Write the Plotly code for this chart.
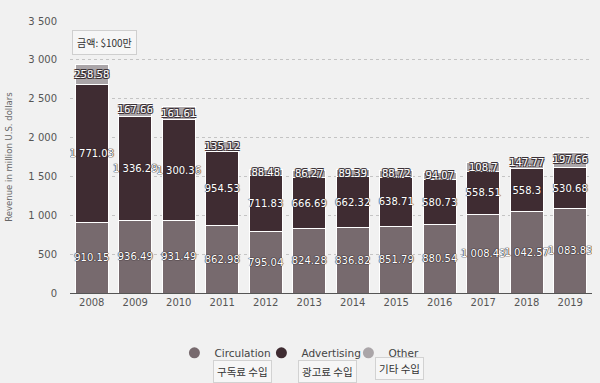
import plotly.graph_objects as go

years = ["2008", "2009", "2010", "2011", "2012", "2013", "2014", "2015", "2016", "2017", "2018", "2019"]
circulation = [910.15, 936.49, 931.49, 862.98, 795.04, 824.28, 836.82, 851.79, 880.54, 1008.43, 1042.57, 1083.83]
advertising = [1771.03, 1336.29, 1300.36, 954.53, 711.83, 666.69, 662.32, 638.71, 580.73, 558.51, 558.3, 530.68]
other = [258.58, 167.66, 161.61, 135.12, 88.48, 86.27, 89.39, 88.72, 94.07, 108.7, 147.77, 197.66]

series_names = ["Circulation", "Advertising", "Other"]
series_colors = ["#776a6e", "#3f2c32", "#aaa5a8"]
korean_labels = ["구독료 수입", "광고료 수입", "기타 수입"]

font_main = "DejaVu Sans"
outline_strong = "-1px -1px 0 #3a3035, 1px -1px 0 #3a3035, -1px 1px 0 #3a3035, 1px 1px 0 #3a3035"
outline_soft = "0 0 1px #2e2428, 0 0 1px #2e2428, 0 0 1px #2e2428"

fig = go.Figure()
for name, vals, col in zip(series_names, [circulation, advertising, other], series_colors):
    sh = outline_strong if name == "Other" else outline_soft
    fig.add_trace(go.Bar(
        x=years, y=vals, name=name, showlegend=False,
        marker=dict(color=col, line=dict(color="white", width=1)),
        texttemplate="%{y:,}", textposition="inside", insidetextanchor="middle",
        constraintext="none", textangle=0,
        textfont=dict(family=font_main, size=10, color="white", shadow=sh),
    ))
# legend entries with round markers
for name, col in zip(series_names, series_colors):
    fig.add_trace(go.Scatter(x=[None], y=[None], mode="markers", name=name,
                             marker=dict(symbol="circle", size=11, color=col)))

fig.update_layout(
    barmode="stack",
    bargap=0.24,
    separators=". ",
    width=600, height=383,
    margin=dict(l=70, r=8, t=21, b=90),
    paper_bgcolor="#f1f1f1",
    plot_bgcolor="#f1f1f1",
    font=dict(family=font_main, size=10, color="#555"),
    showlegend=True,
    legend=dict(orientation="h", x=0.45, xanchor="center", y=-0.22, yanchor="middle",
                font=dict(size=10.5, color="#444"), bgcolor="rgba(0,0,0,0)",
                itemwidth=30, entrywidth=42, entrywidthmode="pixels", traceorder="normal"),
    yaxis=dict(range=[0, 3500], dtick=500, tickformat=",", showgrid=True,
               gridcolor="#c4c4c4", griddash="dot", gridwidth=1, zeroline=False,
               ticks="", ticklabelstandoff=12,
               title=dict(text="Revenue in million U.S. dollars", font=dict(size=8.5, color="#666"), standoff=14)),
    xaxis=dict(showline=True, linecolor="#555", linewidth=1, ticks="", showgrid=False,
               tickfont=dict(size=10, color="#555")),
)

fig.add_annotation(text="금액: $100만", xref="paper", yref="paper", x=0.004, y=0.92,
                   xanchor="left", yanchor="middle", showarrow=False,
                   font=dict(family="Noto Sans CJK KR", size=10, color="#333"),
                   bordercolor="#cfcfcf", borderwidth=1, borderpad=4, bgcolor="#f6f6f6")

kx = [0.33, 0.494, 0.632]
ky = [-0.29, -0.29, -0.276]
for t, x, y in zip(korean_labels, kx, ky):
    fig.add_annotation(text=t, xref="paper", yref="paper", x=x, y=y,
                       xanchor="center", yanchor="middle", showarrow=False,
                       font=dict(family="Noto Sans CJK KR", size=10.5, color="#333"),
                       bordercolor="#d2d2d2", borderwidth=1, borderpad=3, bgcolor="#f6f6f6")

fig.write_html("out.html", config={"displayModeBar": False},
               post_script="document.body.style.margin='0';")
